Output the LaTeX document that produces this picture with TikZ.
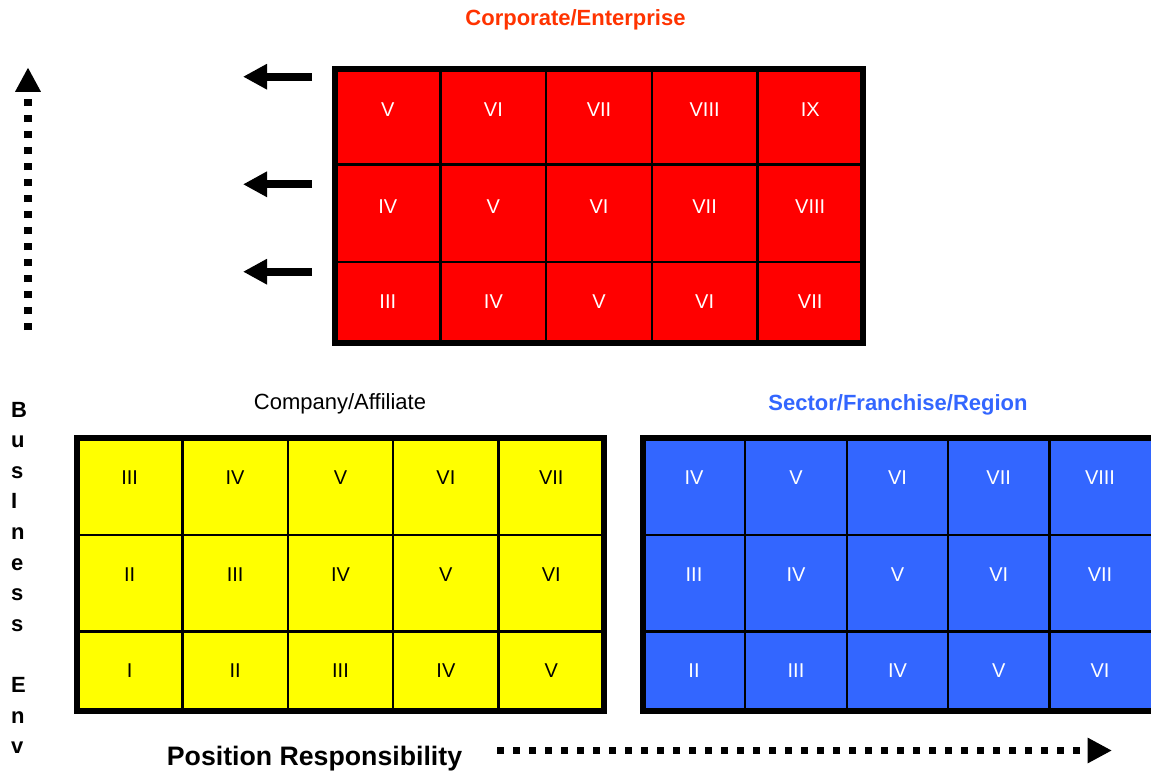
\documentclass[tikz,border=0pt]{standalone}
\usepackage{fontspec}
\setmainfont{Liberation Sans}
\usetikzlibrary{arrows.meta}

\definecolor{corpred}{HTML}{FF0000}
\definecolor{titlered}{HTML}{FF3300}
\definecolor{affyellow}{HTML}{FFFF00}
\definecolor{sectblue}{HTML}{3366FF}

% Roman numeral for a cell level
\newcommand\romanlabel[1]{\ifcase#1\or I\or II\or III\or IV\or V\or VI\or VII\or VIII\or IX\fi}

\tikzset{
  gridframe/.style={draw=black, line width=5.5pt},
  griddivider/.style={draw=black, line width=2.5pt},
  numeral/.style={font=\fontsize{20}{24}\selectfont, inner sep=0pt, anchor=center},
  heading/.style={font=\bfseries\fontsize{22}{26}\selectfont, inner sep=0pt, anchor=base},
  plainheading/.style={font=\fontsize{22}{26}\selectfont, inner sep=0pt, anchor=base},
  axisletter/.style={font=\bfseries\fontsize{22}{26}\selectfont, inner sep=0pt, anchor=base west},
  backarrow/.style={line width=8pt, -{Triangle[length=24pt,width=24pt]}},
  dotarrow/.style={line width=7.5pt, dash pattern=on 7pt off 9pt,
                   -{Triangle[length=24.5pt,width=24pt]}},
}

\begin{document}
\begin{tikzpicture}[x=1pt,y=-1pt]
\clip (0,0) rectangle (1151,774);
\fill[white] (0,0) rectangle (1151,774);

% ---------- Corporate / Enterprise grid ----------
\fill[corpred] (335,69) rectangle (863,343);
\foreach \gx in {440.6,546.2,651.8,757.4}
  \draw[griddivider] (\gx,69) -- (\gx,343);
\foreach \gy in {164.5,262}
  \draw[griddivider] (335,\gy) -- (863,\gy);
\draw[gridframe] (335,69) rectangle (863,343);
\foreach \row/\ry/\s in {1/110/5,2/207/4,3/302/3}
  \foreach \col/\cx in {1/387.8,2/493.4,3/599,4/704.6,5/810.2}{
    \pgfmathtruncatemacro\lvl{\s+\col-1}
    \node[numeral, text=white] (corp-\row-\col) at (\cx,\ry) {\romanlabel{\lvl}};
  }
\node[heading, text=titlered] (corptitle) at (575.5,25) {Corporate/Enterprise};

% ---------- Company / Affiliate grid ----------
\fill[affyellow] (77,438) rectangle (604,711);
\foreach \gx in {182.4,287.8,393.2,498.6}
  \draw[griddivider] (\gx,438) -- (\gx,711);
\foreach \gy in {535,631.5}
  \draw[griddivider] (77,\gy) -- (604,\gy);
\draw[gridframe] (77,438) rectangle (604,711);
\foreach \row/\ry/\s in {1/478/3,2/575/2,3/671/1}
  \foreach \col/\cx in {1/129.7,2/235.1,3/340.5,4/445.9,5/551.3}{
    \pgfmathtruncatemacro\lvl{\s+\col-1}
    \node[numeral, text=black] (comp-\row-\col) at (\cx,\ry) {\romanlabel{\lvl}};
  }
\node[plainheading, text=black] (comptitle) at (340,409) {Company/Affiliate};

% ---------- Sector / Franchise / Region grid ----------
\fill[sectblue] (643,438) rectangle (1160,711);
\foreach \gx in {745,847,948,1049.5}
  \draw[griddivider] (\gx,438) -- (\gx,711);
\foreach \gy in {535,631.5}
  \draw[griddivider] (643,\gy) -- (1160,\gy);
\draw[gridframe] (643,438) rectangle (1160,711);
\foreach \row/\ry/\s in {1/478/4,2/575/3,3/671/2}
  \foreach \col/\cx in {1/694,2/796,3/897.5,4/998.7,5/1100}{
    \pgfmathtruncatemacro\lvl{\s+\col-1}
    \node[numeral, text=white] (sect-\row-\col) at (\cx,\ry) {\romanlabel{\lvl}};
  }
\node[heading, text=sectblue] (secttitle) at (898,410) {Sector/Franchise/Region};

% ---------- arrows pointing away from the corporate grid ----------
\foreach \i/\ay in {1/76.7,2/184.3,3/271.7}{
  \coordinate (back-start-\i) at (312,\ay);
  \coordinate (back-end-\i) at (243,\ay);
  \draw[backarrow] (back-start-\i) -- (back-end-\i);
}

% ---------- vertical axis: Business Env ----------
\coordinate (vaxis-start) at (28,330);
\coordinate (vaxis-end) at (28,67.3);
\draw[dotarrow] (vaxis-start) -- (vaxis-end);
\foreach \i/\ch in {0/B,1/u,2/s,3/I,4/n,5/e,6/s,7/s,9/E,10/n,11/v}
  \node[axisletter] (axis-letter-\i) at (11,417+30.6*\i) {\ch};

% ---------- horizontal axis: Position Responsibility ----------
\node[font=\bfseries\fontsize{26.7}{30}\selectfont, inner sep=0pt, anchor=base]
  (haxis-label) at (314.5,765) {Position Responsibility};
\coordinate (haxis-start) at (497,750.5);
\coordinate (haxis-end) at (1112,750.5);
\draw[dotarrow] (haxis-start) -- (haxis-end);

\end{tikzpicture}
\end{document}
